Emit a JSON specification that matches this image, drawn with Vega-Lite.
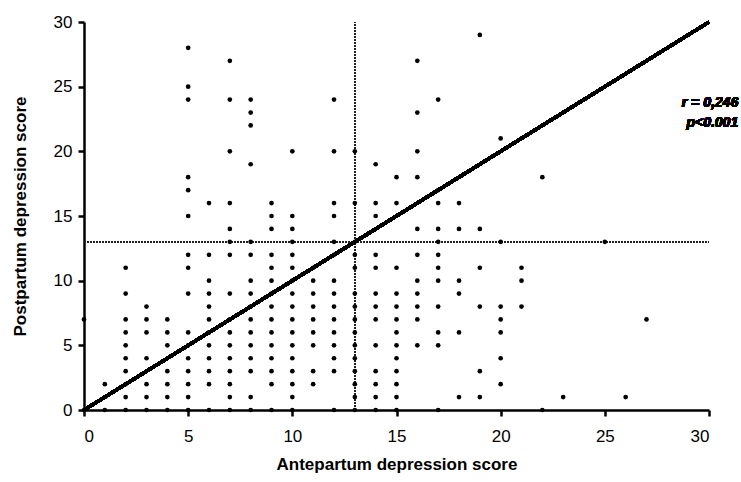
{
  "$schema": "https://vega.github.io/schema/vega-lite/v6.json",
  "width": 625,
  "height": 388,
  "autosize": "none",
  "padding": {"left": 84, "top": 22, "right": 32, "bottom": 72},
  "background": "white",
  "config": {
    "view": {"stroke": null},
    "axis": {
      "grid": false,
      "domainColor": "black",
      "domainWidth": 2.5,
      "tickColor": "black",
      "tickWidth": 2.5,
      "tickSize": 6,
      "labelFont": "Liberation Sans Narrow, Liberation Sans, Arial",
      "labelFontSize": 17,
      "labelColor": "black",
      "titleFont": "Liberation Sans, Arial",
      "titleFontSize": 17,
      "titleFontWeight": "bold",
      "titleColor": "black"
    }
  },
  "data": {
    "values": [
      {"a":0,"p":7},{"a":0,"p":0},
      {"a":1,"p":2},{"a":1,"p":0},
      {"a":2,"p":11},{"a":2,"p":9},{"a":2,"p":7},{"a":2,"p":6},{"a":2,"p":5},{"a":2,"p":4},{"a":2,"p":3},{"a":2,"p":2},{"a":2,"p":1},{"a":2,"p":0},
      {"a":3,"p":8},{"a":3,"p":7},{"a":3,"p":6},{"a":3,"p":4},{"a":3,"p":2},{"a":3,"p":1},{"a":3,"p":0},
      {"a":4,"p":7},{"a":4,"p":6},{"a":4,"p":5},{"a":4,"p":3},{"a":4,"p":2},{"a":4,"p":1},{"a":4,"p":0},
      {"a":5,"p":28},{"a":5,"p":25},{"a":5,"p":24},{"a":5,"p":18},{"a":5,"p":17},{"a":5,"p":15},{"a":5,"p":12},{"a":5,"p":11},{"a":5,"p":9},{"a":5,"p":6},{"a":5,"p":5},{"a":5,"p":4},{"a":5,"p":3},{"a":5,"p":2},{"a":5,"p":1},{"a":5,"p":0},
      {"a":6,"p":16},{"a":6,"p":12},{"a":6,"p":10},{"a":6,"p":9},{"a":6,"p":8},{"a":6,"p":7},{"a":6,"p":6},{"a":6,"p":5},{"a":6,"p":4},{"a":6,"p":3},{"a":6,"p":2},{"a":6,"p":0},
      {"a":7,"p":27},{"a":7,"p":24},{"a":7,"p":20},{"a":7,"p":16},{"a":7,"p":14},{"a":7,"p":13},{"a":7,"p":12},{"a":7,"p":9},{"a":7,"p":7},{"a":7,"p":6},{"a":7,"p":5},{"a":7,"p":4},{"a":7,"p":3},{"a":7,"p":2},{"a":7,"p":1},{"a":7,"p":0},
      {"a":8,"p":24},{"a":8,"p":23},{"a":8,"p":22},{"a":8,"p":19},{"a":8,"p":13},{"a":8,"p":12},{"a":8,"p":10},{"a":8,"p":9},{"a":8,"p":8},{"a":8,"p":7},{"a":8,"p":6},{"a":8,"p":5},{"a":8,"p":4},{"a":8,"p":3},{"a":8,"p":1},{"a":8,"p":0},
      {"a":9,"p":16},{"a":9,"p":15},{"a":9,"p":14},{"a":9,"p":12},{"a":9,"p":11},{"a":9,"p":10},{"a":9,"p":9},{"a":9,"p":8},{"a":9,"p":7},{"a":9,"p":6},{"a":9,"p":5},{"a":9,"p":4},{"a":9,"p":3},{"a":9,"p":2},{"a":9,"p":0},
      {"a":10,"p":20},{"a":10,"p":15},{"a":10,"p":14},{"a":10,"p":13},{"a":10,"p":12},{"a":10,"p":11},{"a":10,"p":10},{"a":10,"p":9},{"a":10,"p":8},{"a":10,"p":7},{"a":10,"p":6},{"a":10,"p":5},{"a":10,"p":4},{"a":10,"p":3},{"a":10,"p":2},{"a":10,"p":1},{"a":10,"p":0},
      {"a":11,"p":11},{"a":11,"p":10},{"a":11,"p":9},{"a":11,"p":8},{"a":11,"p":7},{"a":11,"p":6},{"a":11,"p":5},{"a":11,"p":3},{"a":11,"p":2},
      {"a":12,"p":24},{"a":12,"p":20},{"a":12,"p":16},{"a":12,"p":15},{"a":12,"p":13},{"a":12,"p":12},{"a":12,"p":10},{"a":12,"p":9},{"a":12,"p":8},{"a":12,"p":7},{"a":12,"p":6},{"a":12,"p":5},{"a":12,"p":4},{"a":12,"p":3},{"a":12,"p":0},
      {"a":13,"p":20},{"a":13,"p":16},{"a":13,"p":13},{"a":13,"p":12},{"a":13,"p":11},{"a":13,"p":9},{"a":13,"p":8},{"a":13,"p":7},{"a":13,"p":6},{"a":13,"p":5},{"a":13,"p":4},{"a":13,"p":3},{"a":13,"p":2},{"a":13,"p":1},{"a":13,"p":0},
      {"a":14,"p":19},{"a":14,"p":16},{"a":14,"p":15},{"a":14,"p":12},{"a":14,"p":11},{"a":14,"p":9},{"a":14,"p":8},{"a":14,"p":7},{"a":14,"p":5},{"a":14,"p":3},{"a":14,"p":2},{"a":14,"p":1},{"a":14,"p":0},
      {"a":15,"p":18},{"a":15,"p":16},{"a":15,"p":11},{"a":15,"p":9},{"a":15,"p":8},{"a":15,"p":7},{"a":15,"p":6},{"a":15,"p":5},{"a":15,"p":4},{"a":15,"p":3},{"a":15,"p":2},{"a":15,"p":1},{"a":15,"p":0},
      {"a":16,"p":27},{"a":16,"p":23},{"a":16,"p":20},{"a":16,"p":18},{"a":16,"p":14},{"a":16,"p":12},{"a":16,"p":10},{"a":16,"p":9},{"a":16,"p":8},{"a":16,"p":7},{"a":16,"p":5},
      {"a":17,"p":24},{"a":17,"p":17},{"a":17,"p":16},{"a":17,"p":14},{"a":17,"p":13},{"a":17,"p":12},{"a":17,"p":11},{"a":17,"p":10},{"a":17,"p":8},{"a":17,"p":6},{"a":17,"p":5},{"a":17,"p":0},
      {"a":18,"p":16},{"a":18,"p":14},{"a":18,"p":10},{"a":18,"p":9},{"a":18,"p":6},{"a":18,"p":1},
      {"a":19,"p":29},{"a":19,"p":14},{"a":19,"p":11},{"a":19,"p":8},{"a":19,"p":3},{"a":19,"p":1},
      {"a":20,"p":21},{"a":20,"p":13},{"a":20,"p":8},{"a":20,"p":7},{"a":20,"p":6},{"a":20,"p":4},{"a":20,"p":2},
      {"a":21,"p":11},{"a":21,"p":10},{"a":21,"p":8},
      {"a":22,"p":18},{"a":22,"p":0},
      {"a":23,"p":1},
      {"a":25,"p":13},
      {"a":26,"p":1},
      {"a":27,"p":7}
    ]
  },
  "layer": [
    {
      "mark": {"type": "rule", "color": "#222", "strokeWidth": 1, "strokeDash": [1.5, 1.5]},
      "encoding": {
        "x": {"datum": 13, "type": "quantitative"},
        "y": {"datum": 0, "type": "quantitative"},
        "y2": {"datum": 30}
      }
    },
    {
      "mark": {"type": "rule", "color": "#222", "strokeWidth": 1, "strokeDash": [1.5, 1.5]},
      "encoding": {
        "y": {"datum": 13, "type": "quantitative"},
        "x": {"datum": 0, "type": "quantitative"},
        "x2": {"datum": 30}
      }
    },
    {
      "mark": {"type": "point", "filled": true, "color": "black", "size": 22, "opacity": 1},
      "encoding": {
        "x": {
          "field": "a", "type": "quantitative",
          "scale": {"domain": [0, 30], "nice": false, "zero": false},
          "axis": {"values": [0, 5, 10, 15, 20, 25, 30], "title": "Antepartum depression score", "labelPadding": 12, "titlePadding": 12}
        },
        "y": {
          "field": "p", "type": "quantitative",
          "scale": {"domain": [0, 30], "nice": false, "zero": false},
          "axis": {"values": [0, 5, 10, 15, 20, 25, 30], "title": "Postpartum depression score", "labelPadding": 6, "titlePadding": 24}
        }
      }
    },
    {
      "mark": {"type": "rule", "color": "black", "strokeWidth": 3},
      "encoding": {
        "x": {"datum": 0, "type": "quantitative"},
        "y": {"datum": 0, "type": "quantitative"},
        "x2": {"datum": 30},
        "y2": {"datum": 30}
      }
    },
    {
      "mark": {"type": "text", "align": "right", "baseline": "middle", "font": "Liberation Sans, Arial", "fontSize": 14, "fontWeight": "bold", "fontStyle": "italic", "fill": "black", "lineHeight": 20, "clip": false},
      "encoding": {
        "x": {"datum": 31.4, "type": "quantitative"},
        "y": {"datum": 23.7, "type": "quantitative"},
        "text": {"value": ["r = 0,246", "p<0.001"]}
      }
    }
  ]
}
